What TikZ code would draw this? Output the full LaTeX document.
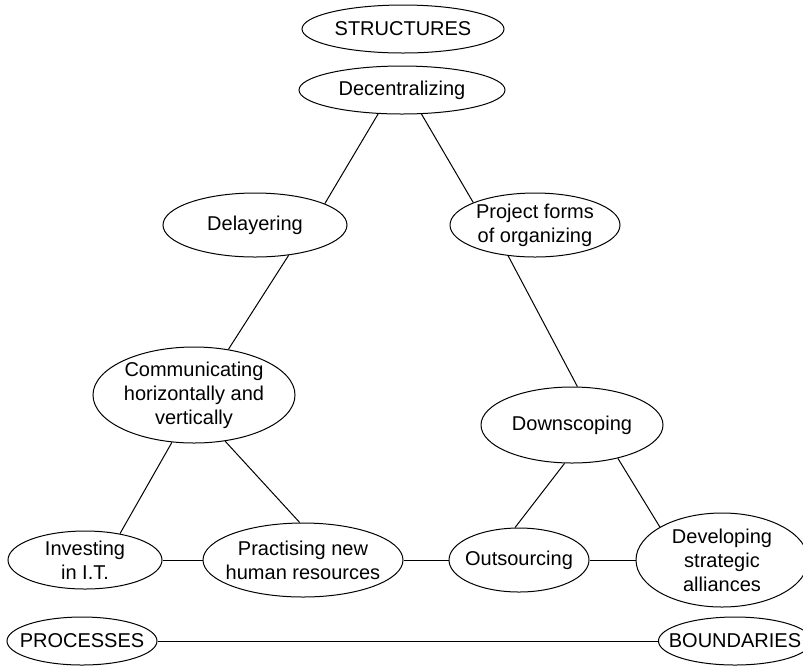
\documentclass[tikz,border=0pt]{standalone}
\usepackage{fontspec}
\setmainfont{Liberation Sans}
\usetikzlibrary{shapes}

\tikzset{
  blob/.style={draw, ellipse, line width=0.5pt, inner sep=-6pt, align=center,
               font=\fontsize{10}{12}\selectfont},
  link/.style={line width=0.5pt}
}

\begin{document}
\begin{tikzpicture}[x=0.5pt,y=-0.5pt]
    \useasboundingbox (0,0) rectangle (803,666);

    % Top of the triangle
    \node[blob, minimum width=101pt, minimum height=24pt] (struct) at (403,29) {STRUCTURES};
    \node[blob, minimum width=103pt, minimum height=24pt] (dec) at (402,90) {Decentralizing};

    % Middle
    \node[blob, minimum width=92pt, minimum height=32pt] (delay) at (255,225) {Delayering};
    \node[blob, minimum width=85pt, minimum height=32pt] (proj) at (535,225) {Project forms\\of organizing};
    \node[blob, minimum width=101pt, minimum height=48pt] (comm) at (194,395) {Communicating\\horizontally and\\vertically};
    \node[blob, minimum width=91pt, minimum height=38pt] (down) at (572,425) {Downscoping};

    % Bottom row
    \node[blob, minimum width=77pt, minimum height=29pt] (invest) at (85,560) {Investing\\in I.T.};
    \node[blob, minimum width=100pt, minimum height=37pt] (prac) at (303,560) {Practising new\\human resources};
    \node[blob, minimum width=70pt, minimum height=32pt] (out) at (519,560) {Outsourcing};
    \node[blob, minimum width=86pt, minimum height=47pt] (dev) at (722,560) {Developing\\strategic\\alliances};

    % Corners
    \node[blob, minimum width=75pt, minimum height=24pt] (proc) at (82,641) {PROCESSES};
    \node[blob, minimum width=75pt, minimum height=24pt] (bound) at (735,641) {BOUNDARIES};

    % Connections
    \draw[link] (dec.225) -- (delay.17);
    \draw[link] (dec.309) -- (proj.160);
    \draw[link] (delay.318) -- (comm.53);
    \draw[link] (proj.229) -- (down.82);
    \draw[link] (comm.245) -- (invest.37);
    \draw[link] (comm.304) -- (prac.95);
    \draw[link] (down.259) -- (out.97);
    \draw[link] (down.324) -- (dev.152);
    \draw[link] (invest) -- (prac);
    \draw[link] (prac) -- (out);
    \draw[link] (out) -- (dev);
    \draw[link] (proc) -- (bound);
\end{tikzpicture}
\end{document}
